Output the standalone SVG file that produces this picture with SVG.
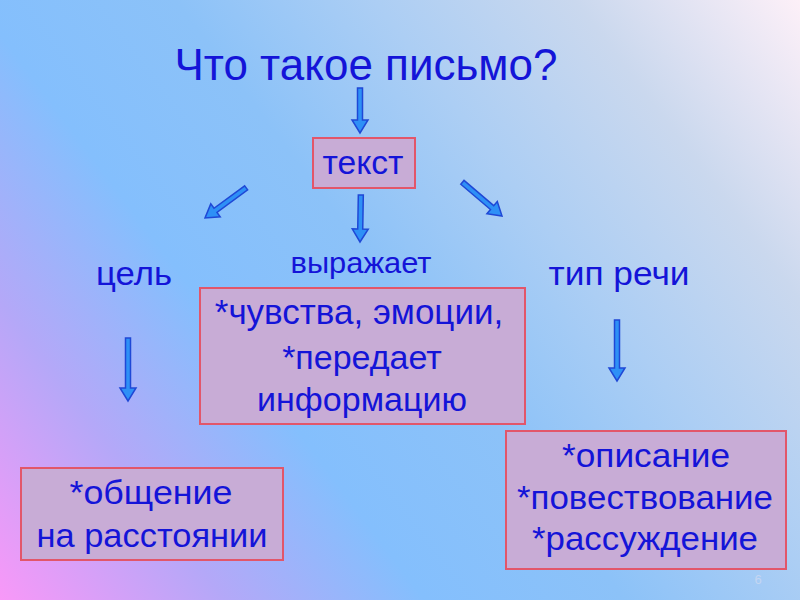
<svg xmlns="http://www.w3.org/2000/svg" width="800" height="600" viewBox="0 0 800 600">
<defs>
<linearGradient id="bg" gradientUnits="userSpaceOnUse" x1="0" y1="600" x2="800" y2="0">
<stop offset="0" stop-color="#f898f8"/>
<stop offset="0.18" stop-color="#b4a8f8"/>
<stop offset="0.34" stop-color="#84bffd"/>
<stop offset="0.5" stop-color="#8cc2f8"/>
<stop offset="0.66" stop-color="#accef4"/>
<stop offset="0.82" stop-color="#cad8ee"/>
<stop offset="1" stop-color="#fdf0f8"/>
</linearGradient>
<style>
.box{fill:#c8acd6;stroke:#e2566a;stroke-width:2}
.t{font-family:"Liberation Sans",Arial,sans-serif;fill:#1414d8;text-anchor:middle}
.arr{fill:#2e90f6;stroke:#1f48d6;stroke-width:1.5;stroke-linejoin:miter}
</style>
</defs>
<rect width="800" height="600" fill="url(#bg)"/>
<text class="t" x="366" y="80" font-size="44" textLength="383" lengthAdjust="spacingAndGlyphs">Что такое письмо?</text>
<g id="connectors">
<polygon class="arr" transform="translate(360,133)" points="-2.5,-45 2.5,-45 2.5,-13 8,-13 0,0 -8,-13 -2.5,-13"/>
<polygon class="arr" transform="translate(360,242) rotate(1)" points="-2.5,-47 2.5,-47 2.5,-13 8,-13 0,0 -8,-13 -2.5,-13"/>
<polygon class="arr" transform="translate(205,218) rotate(53.8)" points="-2.5,-51 2.5,-51 2.5,-13 8,-13 0,0 -8,-13 -2.5,-13"/>
<polygon class="arr" transform="translate(502,216) rotate(-49.6)" points="-2.5,-52 2.5,-52 2.5,-13 8,-13 0,0 -8,-13 -2.5,-13"/>
<polygon class="arr" transform="translate(128,401)" points="-2.5,-63 2.5,-63 2.5,-13 8,-13 0,0 -8,-13 -2.5,-13"/>
<polygon class="arr" transform="translate(617,381)" points="-2.5,-61 2.5,-61 2.5,-13 8,-13 0,0 -8,-13 -2.5,-13"/>
</g>
<g id="node-text">
<rect class="box" x="313" y="138" width="102" height="50"/>
<text class="t" x="363" y="174" font-size="34" textLength="81" lengthAdjust="spacingAndGlyphs">текст</text>
</g>
<g id="node-goal"><text class="t" x="134" y="285" font-size="34" textLength="76" lengthAdjust="spacingAndGlyphs">цель</text></g>
<g id="node-expresses"><text class="t" x="361" y="273" font-size="30" textLength="141" lengthAdjust="spacingAndGlyphs">выражает</text></g>
<g id="node-type"><text class="t" x="619" y="285" font-size="34" textLength="141" lengthAdjust="spacingAndGlyphs">тип речи</text></g>
<g id="node-feelings">
<rect class="box" x="200" y="288" width="325" height="136"/>
<text class="t" x="359" y="324" font-size="35">*чувства, эмоции,</text>
<text class="t" x="362" y="369" font-size="34">*передает</text>
<text class="t" x="362" y="411" font-size="34">информацию</text>
</g>
<g id="node-communication">
<rect class="box" x="21" y="468" width="262" height="92"/>
<text class="t" x="151" y="504" font-size="34" textLength="163" lengthAdjust="spacingAndGlyphs">*общение</text>
<text class="t" x="152" y="547" font-size="34" textLength="231" lengthAdjust="spacingAndGlyphs">на расстоянии</text>
</g>
<g id="node-speech">
<rect class="box" x="506" y="431" width="280" height="138"/>
<text class="t" x="646" y="467" font-size="34" textLength="168" lengthAdjust="spacingAndGlyphs">*описание</text>
<text class="t" x="645" y="509" font-size="34" textLength="256" lengthAdjust="spacingAndGlyphs">*повествование</text>
<text class="t" x="645" y="550" font-size="34" textLength="226" lengthAdjust="spacingAndGlyphs">*рассуждение</text>
</g>
<text x="758" y="584" font-family="Liberation Sans,Arial,sans-serif" font-size="13" fill="#c4d6f2" text-anchor="middle">6</text>
</svg>
